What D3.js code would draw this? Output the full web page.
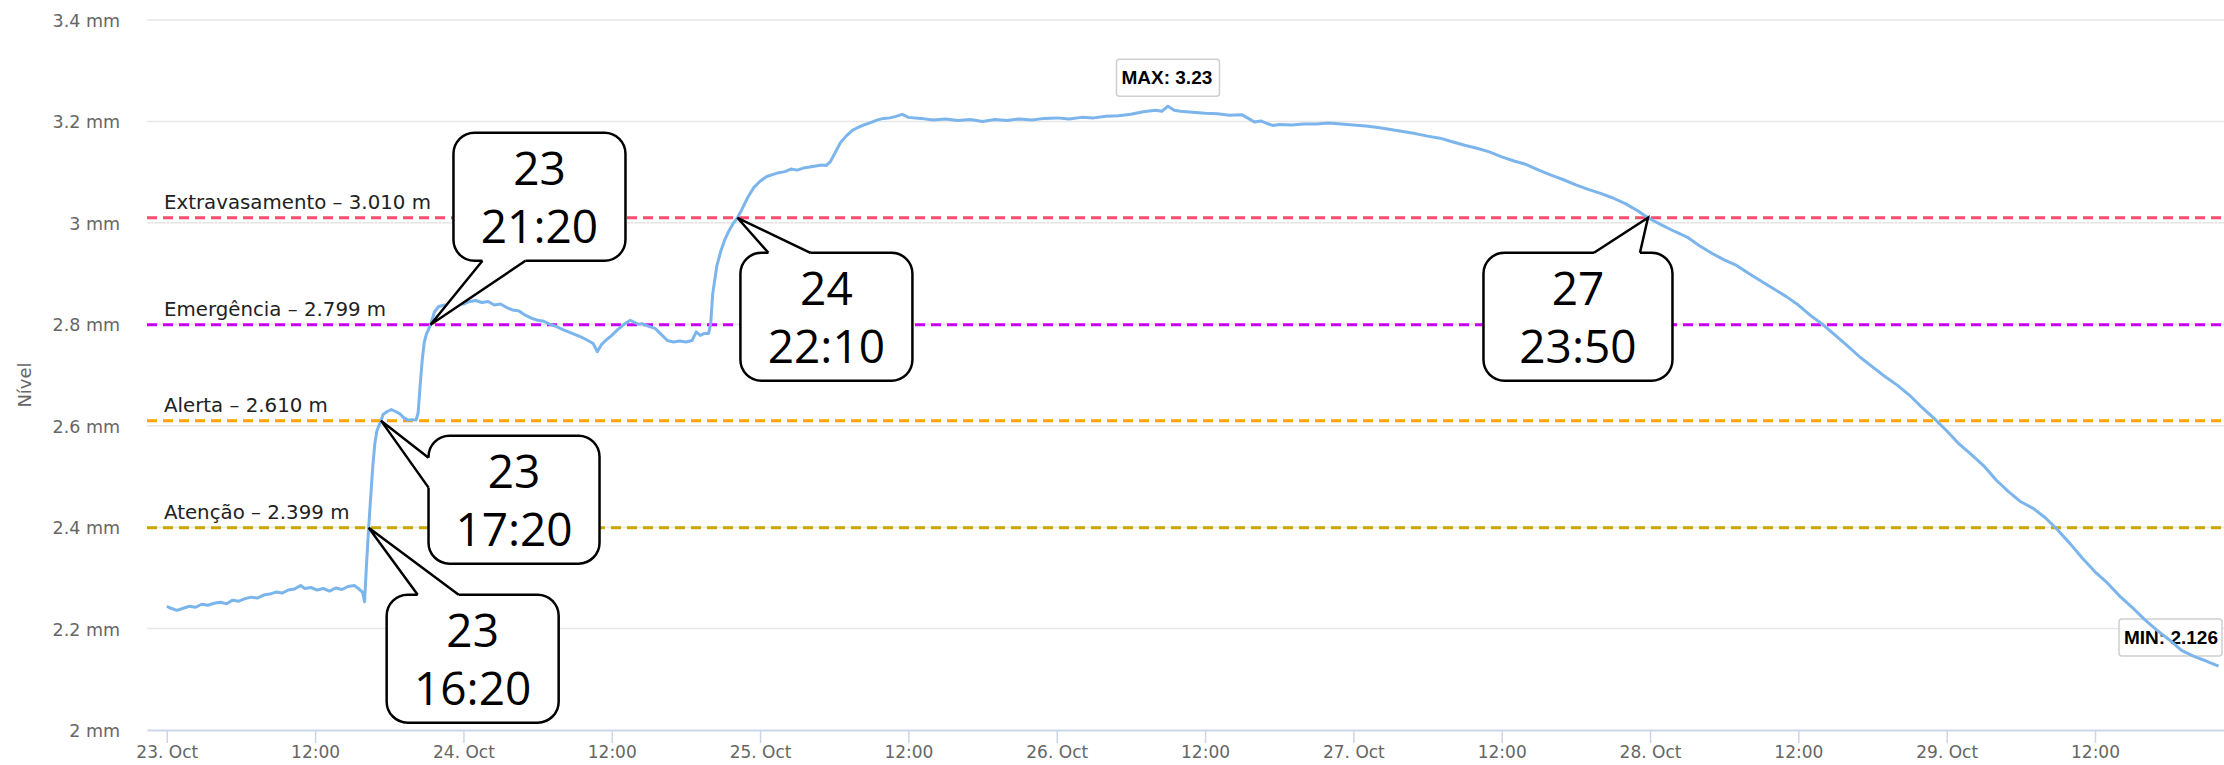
<!DOCTYPE html>
<html>
<head>
<meta charset="utf-8">
<title>Nível</title>
<script src="https://d3js.org/d3.v7.min.js"></script>
<style>
  body { margin: 0; background: #fff; }
  svg { display: block; font-family: "DejaVu Sans", Verdana, sans-serif; }
</style>
</head>
<body>
<svg id="chart" width="2224" height="765"></svg>
<script>
  // readings, day of October + time
  const times = [
    "23 00:00", "23 00:20", "23 00:50", "23 01:20", "23 01:50", "23 02:20", "23 02:50", "23 03:20",
    "23 03:50", "23 04:20", "23 04:50", "23 05:20", "23 05:50", "23 06:20", "23 06:50", "23 07:20",
    "23 07:50", "23 08:20", "23 08:50", "23 09:20", "23 09:50", "23 10:20", "23 10:50", "23 11:10",
    "23 11:40", "23 12:10", "23 12:40", "23 13:10", "23 13:40", "23 14:10", "23 14:40", "23 15:10",
    "23 15:30", "23 15:50", "23 16:00", "23 16:10", "23 16:20", "23 16:30", "23 16:40", "23 16:50",
    "23 17:00", "23 17:20", "23 17:30", "23 17:50", "23 18:10", "23 18:30", "23 18:50", "23 19:10",
    "23 19:30", "23 19:50", "23 20:10", "23 20:20", "23 20:30", "23 20:40", "23 20:50", "23 21:00",
    "23 21:20", "23 21:40", "23 22:00", "23 22:30", "23 23:00", "23 23:30", "24 00:00", "24 00:30",
    "24 01:00", "24 01:30", "24 02:00", "24 02:30", "24 03:00", "24 03:30", "24 04:00", "24 04:30",
    "24 05:00", "24 05:30", "24 06:00", "24 06:30", "24 07:00", "24 07:30", "24 08:00", "24 08:30",
    "24 09:00", "24 09:30", "24 10:00", "24 10:30", "24 10:50", "24 11:10", "24 11:30", "24 12:00",
    "24 12:30", "24 13:00", "24 13:30", "24 13:50", "24 14:10", "24 14:30", "24 15:00", "24 15:30",
    "24 16:00", "24 16:30", "24 17:00", "24 17:30", "24 18:00", "24 18:30", "24 18:50", "24 19:10",
    "24 19:30", "24 19:50", "24 20:00", "24 20:10", "24 20:30", "24 20:50", "24 21:10", "24 21:30",
    "24 21:50", "24 22:10", "24 22:30", "24 23:00", "24 23:30", "25 00:00", "25 00:30", "25 01:00",
    "25 01:30", "25 02:00", "25 02:30", "25 03:00", "25 03:30", "25 04:00", "25 04:30", "25 05:00",
    "25 05:20", "25 05:40", "25 06:00", "25 06:30", "25 07:00", "25 07:30", "25 08:00", "25 08:30",
    "25 09:00", "25 09:30", "25 10:00", "25 10:30", "25 11:00", "25 11:30", "25 12:00", "25 13:00",
    "25 14:00", "25 15:00", "25 16:00", "25 17:00", "25 18:00", "25 19:00", "25 20:00", "25 21:00",
    "25 22:00", "25 23:00", "26 00:00", "26 01:00", "26 02:00", "26 03:00", "26 04:00", "26 05:00",
    "26 06:00", "26 07:00", "26 08:00", "26 08:30", "26 09:00", "26 09:30", "26 10:00", "26 11:00",
    "26 12:00", "26 13:00", "26 14:00", "26 15:00", "26 15:30", "26 16:00", "26 16:30", "26 17:00",
    "26 17:30", "26 18:00", "26 19:00", "26 20:00", "26 21:00", "26 22:00", "26 23:00", "27 00:00",
    "27 01:00", "27 02:00", "27 03:00", "27 04:00", "27 05:00", "27 06:00", "27 07:00", "27 08:00",
    "27 09:00", "27 10:00", "27 11:00", "27 12:00", "27 13:00", "27 14:00", "27 15:00", "27 16:00",
    "27 17:00", "27 18:00", "27 19:00", "27 20:00", "27 21:00", "27 22:00", "27 23:00", "27 23:50",
    "28 01:00", "28 02:00", "28 03:00", "28 04:00", "28 05:00", "28 06:00", "28 07:00", "28 08:00",
    "28 09:00", "28 10:00", "28 11:00", "28 12:00", "28 13:00", "28 14:00", "28 15:00", "28 16:00",
    "28 17:00", "28 18:00", "28 19:00", "28 20:00", "28 21:00", "28 22:00", "28 23:00", "29 00:00",
    "29 01:00", "29 02:00", "29 03:00", "29 04:00", "29 05:00", "29 06:00", "29 07:00", "29 08:00",
    "29 09:00", "29 10:00", "29 11:00", "29 12:00", "29 13:00", "29 14:00", "29 15:00", "29 16:00",
    "29 17:00", "29 18:00", "29 19:00", "29 20:00", "29 21:00", "29 22:00"
  ];
  const levels = [
    2.244, 2.240, 2.236, 2.240, 2.244, 2.242, 2.248, 2.246,
    2.250, 2.252, 2.249, 2.256, 2.254, 2.259, 2.262, 2.260,
    2.266, 2.268, 2.272, 2.270, 2.276, 2.278, 2.285, 2.279,
    2.281, 2.276, 2.279, 2.274, 2.280, 2.277, 2.283, 2.285,
    2.279, 2.272, 2.253, 2.330, 2.399, 2.460, 2.520, 2.565,
    2.590, 2.610, 2.622, 2.628, 2.632, 2.628, 2.624, 2.616,
    2.611, 2.612, 2.611, 2.625, 2.680, 2.730, 2.765, 2.780,
    2.799, 2.825, 2.835, 2.838, 2.836, 2.842, 2.840, 2.845,
    2.847, 2.843, 2.845, 2.838, 2.840, 2.833, 2.828, 2.826,
    2.818, 2.812, 2.808, 2.806, 2.800, 2.796, 2.790, 2.785,
    2.780, 2.775, 2.769, 2.762, 2.746, 2.760, 2.768, 2.778,
    2.790, 2.800, 2.808, 2.804, 2.800, 2.801, 2.796, 2.792,
    2.780, 2.768, 2.765, 2.767, 2.765, 2.768, 2.785, 2.778,
    2.782, 2.782, 2.800, 2.860, 2.915, 2.945, 2.968, 2.985,
    2.999, 3.010, 3.025, 3.050, 3.070, 3.082, 3.091, 3.095,
    3.099, 3.101, 3.106, 3.104, 3.108, 3.110, 3.112, 3.114,
    3.113, 3.120, 3.135, 3.158, 3.172, 3.183, 3.189, 3.194,
    3.198, 3.203, 3.206, 3.207, 3.210, 3.214, 3.208, 3.206,
    3.203, 3.205, 3.202, 3.204, 3.200, 3.204, 3.202, 3.205,
    3.203, 3.206, 3.207, 3.205, 3.208, 3.207, 3.210, 3.211,
    3.214, 3.219, 3.222, 3.220, 3.230, 3.222, 3.220, 3.218,
    3.216, 3.215, 3.212, 3.213, 3.206, 3.199, 3.201, 3.196,
    3.192, 3.194, 3.193, 3.195, 3.195, 3.197, 3.195, 3.193,
    3.191, 3.188, 3.184, 3.180, 3.176, 3.171, 3.167, 3.160,
    3.153, 3.147, 3.140, 3.130, 3.122, 3.115, 3.104, 3.094,
    3.085, 3.075, 3.066, 3.058, 3.049, 3.038, 3.024, 3.010,
    2.995, 2.983, 2.972, 2.955, 2.940, 2.927, 2.916, 2.900,
    2.885, 2.870, 2.855, 2.838, 2.817, 2.799, 2.778, 2.757,
    2.735, 2.716, 2.697, 2.680, 2.660, 2.636, 2.614, 2.590,
    2.564, 2.543, 2.521, 2.493, 2.470, 2.450, 2.437, 2.418,
    2.394, 2.367, 2.338, 2.312, 2.290, 2.264, 2.242, 2.218,
    2.197, 2.178, 2.157, 2.145, 2.136, 2.126
  ];

  const yTicks = [2, 2.2, 2.4, 2.6, 2.8, 3, 3.2, 3.4];

  const thresholdNames = ["Extravasamento", "Emergência", "Alerta", "Atenção"];
  const thresholdValues = [3.010, 2.799, 2.610, 2.399];
  const thresholdColors = ["#ff4d6d", "#cc00ff", "#ffa500", "#c8a800"];

  const calloutTimes = ["23 16:20", "23 17:20", "23 21:20", "24 22:10", "27 23:50"];
  const calloutLevels = [2.399, 2.610, 2.799, 3.010, 3.010];
  // box placement relative to the pointed spot: centre offset, top offset, width, tail
  const calloutLayout = [
    { cx: 104, dy: 67, w: 172, tail: { side: "top", a: -55, b: -14 } },
    { cx: 133, dy: 15, w: 171, tail: { side: "left", a: 22, b: 52 } },
    { cx: 109, dy: -192, w: 172, tail: { side: "bottom", a: -57, b: -14 } },
    { cx: 89, dy: 35, w: 172, tail: { side: "top", a: -58, b: -16 } },
    { cx: -70, dy: 35, w: 189, tail: { side: "top", a: 16, b: 62 } }
  ];

  const parseTime = d3.utcParse("%Y-%m-%d %H:%M");
  const toDate = s => parseTime("2023-10-" + s);

  const data = times.map((t, i) => ({ date: toDate(t), value: levels[i] }));

  const svg = d3.select("#chart");
  const W = +svg.attr("width");
  const plot = { left: 147, right: 2232, top: 20, bottom: 730 };

  const x = d3.scaleUtc()
    .domain([toDate("22 22:24"), toDate("29 23:05")])
    .range([plot.left, plot.right]);
  const y = d3.scaleLinear()
    .domain([2, 3.4])
    .range([plot.bottom, plot.top]);

  // grid + y labels
  const yAxis = svg.append("g").attr("class", "y axis");
  yAxis.selectAll("line")
    .data(yTicks.filter(d => d > 2))
    .enter().append("line")
    .attr("x1", plot.left).attr("x2", plot.right)
    .attr("y1", d => y(d)).attr("y2", d => y(d))
    .attr("stroke", "#e6e6e6")
    .attr("stroke-width", 1.5);
  yAxis.selectAll("text")
    .data(yTicks)
    .enter().append("text")
    .attr("x", 120)
    .attr("y", d => y(d) + 7)
    .attr("text-anchor", "end")
    .attr("fill", "#666")
    .style("font-size", "17.5px")
    .text(d => (+d.toFixed(1)) + " mm");

  svg.append("text")
    .attr("transform", `translate(31, ${(plot.top + plot.bottom) / 2 + 10}) rotate(-90)`)
    .attr("text-anchor", "middle")
    .attr("fill", "#666")
    .style("font-size", "18px")
    .text("Nível");

  // x axis
  const xAxis = svg.append("g")
    .attr("transform", `translate(0, ${plot.bottom})`)
    .call(d3.axisBottom(x)
      .ticks(d3.utcHour.every(12))
      .tickSize(13)
      .tickSizeOuter(0)
      .tickPadding(3)
      .tickFormat(d => d.getUTCHours() === 0 ? d3.utcFormat("%-d. %b")(d) : d3.utcFormat("%H:%M")(d)));
  xAxis.select(".domain").attr("stroke", "#ccd6eb").attr("stroke-width", 2);
  xAxis.selectAll(".tick line").attr("stroke", "#ccd6eb").attr("stroke-width", 1.5);
  xAxis.selectAll(".tick text")
    .attr("fill", "#666")
    .style("font-size", "17px")
    .style("font-family", "'DejaVu Sans', Verdana, sans-serif");

  // threshold lines
  const thr = svg.append("g").selectAll("g")
    .data(thresholdValues)
    .enter().append("g");
  thr.append("line")
    .attr("x1", plot.left).attr("x2", plot.right)
    .attr("y1", d => y(d)).attr("y2", d => y(d))
    .attr("stroke", (d, i) => thresholdColors[i])
    .attr("stroke-width", 3)
    .attr("stroke-dasharray", "10,6");
  thr.append("text")
    .attr("x", plot.left + 17)
    .attr("y", d => y(d) - 9)
    .attr("fill", "#222")
    .style("font-size", "19.8px")
    .text((d, i) => `${thresholdNames[i]} – ${d.toFixed(3)} m`);

  // max / min flags
  const maxI = d3.maxIndex(data, d => d.value);
  const minI = d3.minIndex(data, d => d.value);
  const flags = [
    { d: data[maxI], label: "MAX: " + data[maxI].value.toFixed(2) },
    { d: data[minI], label: "MIN: " + data[minI].value.toFixed(3) }
  ];
  const flagW = 103, flagH = 37;
  flags.forEach(f => {
    const px = x(f.d.date), py = y(f.d.value);
    // keep the flag inside the visible picture
    const left = Math.min(px - flagW / 2, W - flagW - 2);
    const top = py - 10 - flagH;
    const g = svg.append("g");
    g.append("rect")
      .attr("x", left).attr("y", top)
      .attr("width", flagW).attr("height", flagH)
      .attr("rx", 3)
      .attr("fill", "#fff")
      .attr("stroke", "#cfcfcf")
      .attr("stroke-width", 1.5);
    g.append("text")
      .attr("x", left + 5)
      .attr("y", top + 25)
      .attr("fill", "#000")
      .style("font-family", "'Liberation Sans', Arial, sans-serif")
      .style("font-weight", "bold")
      .style("font-size", "19px")
      .text(f.label);
  });

  // series
  const line = d3.line()
    .x(d => x(d.date))
    .y(d => y(d.value));
  svg.append("path")
    .datum(data)
    .attr("d", line)
    .attr("fill", "none")
    .attr("stroke", "#7cb5ec")
    .attr("stroke-width", 3)
    .attr("stroke-linejoin", "round");

  // speech bubbles
  const boxH = 128;
  calloutTimes.forEach((t, i) => {
    const lay = calloutLayout[i];
    const tx = x(toDate(t)), ty = y(calloutLevels[i]);
    const bx = tx + lay.cx - lay.w / 2, by = ty + lay.dy;
    const cx = bx + lay.w / 2;
    let p1, p2, q1, q2;
    if (lay.tail.side === "top") {
      p1 = [cx + lay.tail.a, by]; p2 = [cx + lay.tail.b, by];
      q1 = [p1[0], by + 4]; q2 = [p2[0], by + 4];
    } else if (lay.tail.side === "bottom") {
      p1 = [cx + lay.tail.a, by + boxH]; p2 = [cx + lay.tail.b, by + boxH];
      q1 = [p1[0], by + boxH - 4]; q2 = [p2[0], by + boxH - 4];
    } else {
      p1 = [bx, by + lay.tail.a]; p2 = [bx, by + lay.tail.b];
      q1 = [bx + 4, p1[1]]; q2 = [bx + 4, p2[1]];
    }
    const g = svg.append("g");
    g.append("rect")
      .attr("x", bx).attr("y", by)
      .attr("width", lay.w).attr("height", boxH)
      .attr("rx", 21)
      .attr("fill", "#fff")
      .attr("stroke", "#000")
      .attr("stroke-width", 2.5);
    g.append("path")
      .attr("d", `M${p1}L${tx},${ty}L${p2}L${q2}L${q1}Z`)
      .attr("fill", "#fff");
    g.append("path")
      .attr("d", `M${p1}L${tx},${ty}L${p2}`)
      .attr("fill", "none")
      .attr("stroke", "#000")
      .attr("stroke-width", 2.5)
      .attr("stroke-linejoin", "miter");
    const parts = t.split(" ");
    g.append("text")
      .attr("x", cx).attr("y", by + 52)
      .attr("text-anchor", "middle")
      .style("font-family", "'Open Sans', sans-serif")
      .style("font-size", "46px")
      .text(parts[0]);
    g.append("text")
      .attr("x", cx).attr("y", by + 110)
      .attr("text-anchor", "middle")
      .style("font-family", "'Open Sans', sans-serif")
      .style("font-size", "46px")
      .text(parts[1]);
  });
</script>
</body>
</html>
